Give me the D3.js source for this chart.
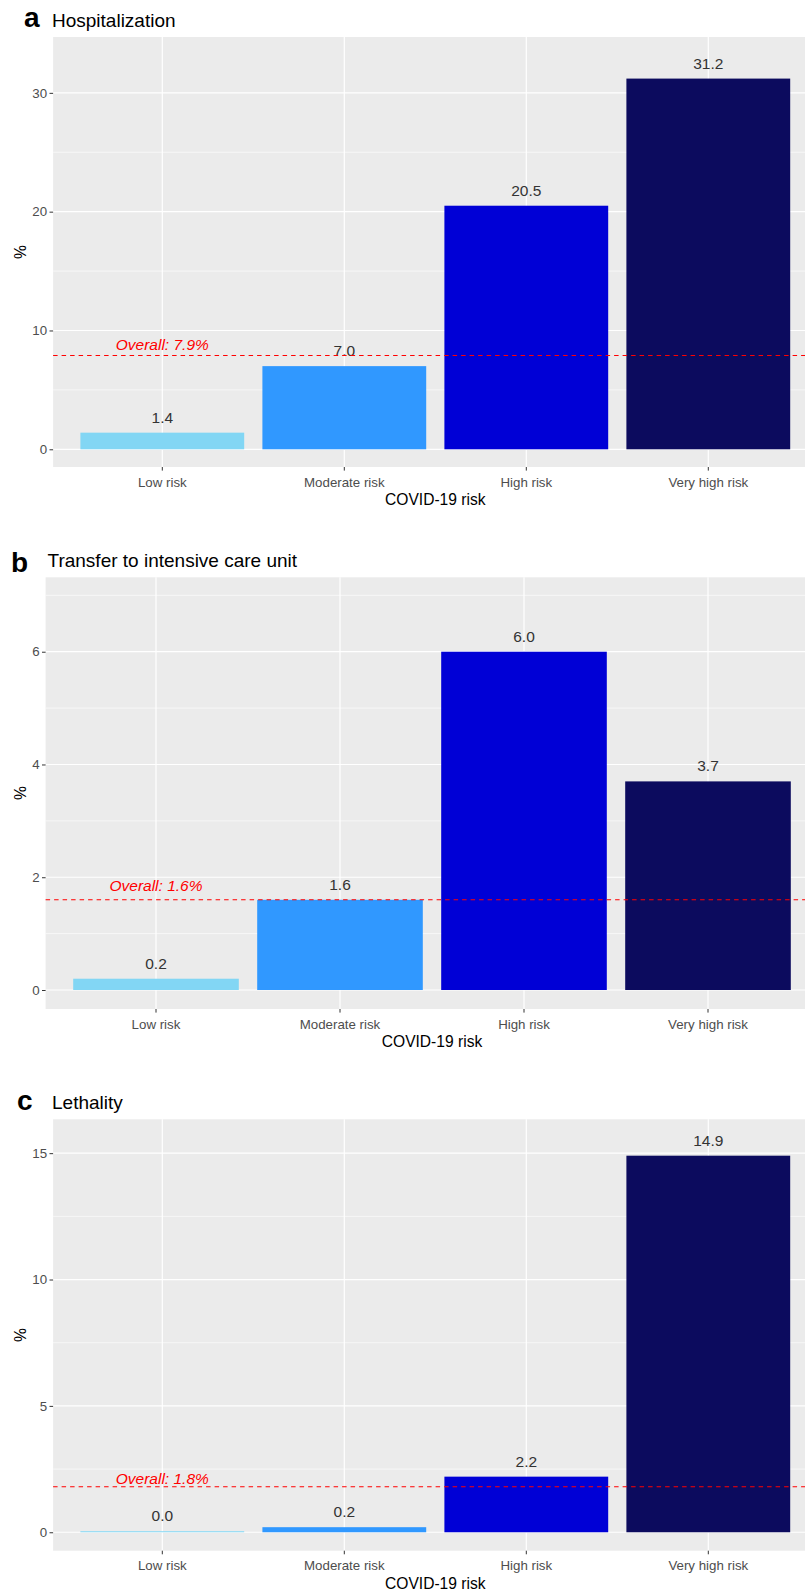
<!DOCTYPE html>
<html>
<head>
<meta charset="utf-8">
<script src="https://cdn.jsdelivr.net/npm/d3@7"></script>
<style>
  html, body { margin: 0; padding: 0; background: #ffffff; }
  svg { display: block; font-family: "Liberation Sans", Arial, sans-serif; }
</style>
</head>
<body>
<svg id="chart" width="805" height="1591"></svg>
<script>
// ---- data ----
const categories = ["Low risk", "Moderate risk", "High risk", "Very high risk"];
const barColors = ["#82D6F4", "#3098FF", "#0000D6", "#0C0B5E"];

const hospitalization = [1.4, 7.0, 20.5, 31.2];
const icuTransfer = [0.2, 1.6, 6.0, 3.7];
const lethality = [0.04, 0.2, 2.2, 14.9];

const overallRates = [7.9, 1.6, 1.8];

const panelTags = ["a", "b", "c"];
const panelTitles = ["Hospitalization", "Transfer to intensive care unit", "Lethality"];

const ticksHosp = [0, 10, 20, 30];
const ticksIcu = [0, 2, 4, 6];
const ticksLeth = [0, 5, 10, 15];

const xAxisTitle = "COVID-19 risk";
const yAxisTitle = "%";

// ---- layout of the three stacked panels ----
const panels = [
  { tag: panelTags[0], title: panelTitles[0], values: hospitalization, overall: overallRates[0], ticks: ticksHosp,
    left: 53.1, right: 817.5, top: 37, bottom: 467, yMin: -1.49, yMax: 34.7,
    tagX: 24, tagY: 27, titleX: 52, titleY: 26.7, overallLift: 5 },
  { tag: panelTags[1], title: panelTitles[1], values: icuTransfer, overall: overallRates[1], ticks: ticksIcu,
    left: 45.6, right: 818.4, top: 577.3, bottom: 1009, yMin: -0.337, yMax: 7.32,
    tagX: 11, tagY: 571.5, titleX: 47.5, titleY: 566.7, overallLift: 9 },
  { tag: panelTags[2], title: panelTitles[2], values: lethality, overall: overallRates[2], ticks: ticksLeth,
    left: 53.1, right: 817.5, top: 1119.3, bottom: 1550.7, yMin: -0.73, yMax: 16.34,
    tagX: 17, tagY: 1110, titleX: 52, titleY: 1109.3, overallLift: 3 }
];

const svg = d3.select("#chart");
svg.append("rect").attr("width", 805).attr("height", 1591).attr("fill", "#ffffff");

panels.forEach(p => {
  const g = svg.append("g");

  const x = d3.scaleBand()
    .domain(categories)
    .range([p.left, p.right])
    .paddingInner(0.1)
    .paddingOuter(0.15);

  const y = d3.scaleLinear()
    .domain([p.yMin, p.yMax])
    .range([p.bottom, p.top]);

  // panel background
  g.append("rect")
    .attr("x", p.left).attr("y", p.top)
    .attr("width", p.right - p.left).attr("height", p.bottom - p.top)
    .attr("fill", "#EBEBEB");

  // minor horizontal grid (midpoints between breaks)
  const step = p.ticks[1] - p.ticks[0];
  const minor = d3.range(p.ticks[0] - step / 2, p.yMax, step).filter(v => v > p.yMin && v < p.yMax);
  g.selectAll(".minor").data(minor).join("line")
    .attr("x1", p.left).attr("x2", p.right)
    .attr("y1", d => y(d)).attr("y2", d => y(d))
    .attr("stroke", "#ffffff").attr("stroke-width", 0.6);

  // major horizontal grid
  g.selectAll(".majorH").data(p.ticks).join("line")
    .attr("x1", p.left).attr("x2", p.right)
    .attr("y1", d => y(d)).attr("y2", d => y(d))
    .attr("stroke", "#ffffff").attr("stroke-width", 1.2);

  // major vertical grid at category centres
  g.selectAll(".majorV").data(categories).join("line")
    .attr("x1", d => x(d) + x.bandwidth() / 2).attr("x2", d => x(d) + x.bandwidth() / 2)
    .attr("y1", p.top).attr("y2", p.bottom)
    .attr("stroke", "#ffffff").attr("stroke-width", 1.2);

  // bars
  g.selectAll(".bar").data(p.values).join("rect")
    .attr("x", (d, i) => x(categories[i]))
    .attr("width", x.bandwidth())
    .attr("y", d => y(d))
    .attr("height", d => y(0) - y(d))
    .attr("fill", (d, i) => barColors[i]);

  // value labels
  g.selectAll(".val").data(p.values).join("text")
    .attr("x", (d, i) => x(categories[i]) + x.bandwidth() / 2)
    .attr("y", d => y(d) - 10)
    .attr("text-anchor", "middle")
    .attr("font-size", "15.5px")
    .attr("fill", "#333333")
    .text(d => d3.format(".1f")(d));

  // overall reference line
  g.append("line")
    .attr("x1", p.left).attr("x2", p.right)
    .attr("y1", y(p.overall)).attr("y2", y(p.overall))
    .attr("stroke", "#FF0000").attr("stroke-width", 1.1)
    .attr("stroke-dasharray", "4.5,4");

  g.append("text")
    .attr("x", x(categories[0]) + x.bandwidth() / 2)
    .attr("y", y(p.overall) - p.overallLift)
    .attr("text-anchor", "middle")
    .attr("font-size", "15.5px")
    .attr("font-style", "italic")
    .attr("fill", "#FF0000")
    .text(`Overall: ${d3.format(".1f")(p.overall)}%`);

  // y axis
  const yAxis = g.append("g")
    .attr("transform", `translate(${p.left},0)`)
    .call(d3.axisLeft(y).tickValues(p.ticks).tickSize(3.6).tickPadding(2.4).tickFormat(d3.format("d")));
  yAxis.select(".domain").remove();
  yAxis.selectAll(".tick line").attr("stroke", "#333333").attr("stroke-width", 1);
  yAxis.selectAll(".tick text")
    .attr("fill", "#4D4D4D").attr("font-size", "13.3px")
    .attr("font-family", "Liberation Sans, Arial, sans-serif");

  // x axis
  const xAxis = g.append("g")
    .attr("transform", `translate(0,${p.bottom})`)
    .call(d3.axisBottom(x).tickSize(3.6).tickPadding(6.6));
  xAxis.select(".domain").remove();
  xAxis.selectAll(".tick line").attr("stroke", "#333333").attr("stroke-width", 1);
  xAxis.selectAll(".tick text")
    .attr("fill", "#4D4D4D").attr("font-size", "13.3px")
    .attr("font-family", "Liberation Sans, Arial, sans-serif");

  // axis titles
  g.append("text")
    .attr("x", (p.left + p.right) / 2)
    .attr("y", p.bottom + 38)
    .attr("text-anchor", "middle")
    .attr("font-size", "15.6px")
    .attr("fill", "#000000")
    .text(xAxisTitle);

  g.append("text")
    .attr("transform", `translate(26,${(p.top + p.bottom) / 2}) rotate(-90)`)
    .attr("text-anchor", "middle")
    .attr("font-size", "15.6px")
    .attr("fill", "#000000")
    .text(yAxisTitle);

  // panel title and tag
  g.append("text")
    .attr("x", p.titleX).attr("y", p.titleY)
    .attr("font-size", "19px")
    .attr("fill", "#000000")
    .text(p.title);

  g.append("text")
    .attr("x", p.tagX).attr("y", p.tagY)
    .attr("font-size", "28px")
    .attr("font-weight", "bold")
    .attr("fill", "#000000")
    .text(p.tag);
});
</script>
</body>
</html>
